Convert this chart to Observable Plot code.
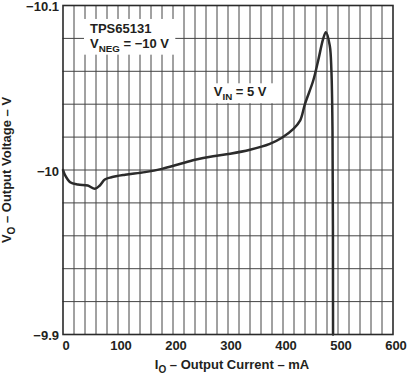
<!DOCTYPE html>
<html>
<head>
<meta charset="utf-8">
<script src="https://cdn.jsdelivr.net/npm/d3@7"></script>
<script src="https://cdn.jsdelivr.net/npm/@observablehq/plot@0.6"></script>
<style>
  html, body { margin: 0; padding: 0; background: white; }
</style>
</head>
<body>
<div id="chart"></div>
<script>
// Output current (mA) and output voltage (V)
const current = [0, 4, 13, 27, 45, 58, 67, 76, 88, 113, 149, 180, 209, 240, 273, 304, 340, 376, 398, 419, 431, 440, 455, 464, 473, 478, 485, 488, 490, 491];
const voltage = [-10.0, -9.9967, -9.9926, -9.9912, -9.9906, -9.9886, -9.9906, -9.9942, -9.9956, -9.9971, -9.9987, -10.0007, -10.0033, -10.0062, -10.0084, -10.0099, -10.0123, -10.0159, -10.0196, -10.025, -10.030, -10.0402, -10.0544, -10.0666, -10.0797, -10.0838, -10.0757, -10.0605, -10.024, -9.9];

const xTicks = [0, 100, 200, 300, 400, 500, 600];
const yTicks = [-10.1, -10.0, -9.9];
const yTickLabels = ["−10.1", "−10", "−9.9"];
const xGrid = [20, 40, 60, 80, 100, 120, 140, 160, 180, 200, 220, 240, 260, 280, 300, 320, 340, 360, 380, 400, 420, 440, 460, 480, 500, 520, 540, 560, 580];
const yGrid = [-10.08, -10.06, -10.04, -10.02, -10.0, -9.98, -9.96, -9.94, -9.92];

// annotation anchors (data coordinates)
const noteDevice = {x: 50, y: -10.083, text: "TPS65131"};
const noteVneg = {x: 50, y: -10.074, main: "V", sub: "NEG", rest: " = −10 V"};
const noteVin = {x: 275, y: -10.0445, main: "V", sub: "IN", rest: " = 5 V"};

const data = current.map((c, i) => ({current: c, voltage: voltage[i]}));

const chart = Plot.plot({
  width: 409,
  height: 376,
  marginLeft: 62.5,
  marginRight: 16.5,
  marginTop: 5,
  marginBottom: 42,
  style: "font-family: 'Liberation Sans', Arial, sans-serif; font-size: 13px; font-weight: bold; color: #231f20; background: white;",
  x: {domain: [0, 600], label: null},
  y: {domain: [-9.9, -10.1], label: null},
  marks: [
    Plot.gridX(xGrid, {stroke: "#444", strokeOpacity: 1, strokeWidth: 1}),
    Plot.gridY(yGrid, {stroke: "#444", strokeOpacity: 1, strokeWidth: 1}),
    Plot.frame({stroke: "#2a2a2a", strokeWidth: 1.6}),
    Plot.axisX(xTicks, {tickSize: 0, tickPadding: 6, dx: 3, label: null}),
    Plot.axisY(yTicks, {tickSize: 0, tickPadding: 4, dy: 1.5, label: null,
      tickFormat: d => yTickLabels[yTicks.findIndex(t => Math.abs(t - d) < 1e-9)]}),
    Plot.line(data, {x: "current", y: "voltage", stroke: "#2b2b2b", strokeWidth: 2.5, curve: "catmull-rom"})
  ]
});

document.getElementById("chart").appendChild(chart);

const svg = d3.select(chart);
const sx = chart.scale("x");
const sy = chart.scale("y");
const font = "'Liberation Sans', Arial, sans-serif";

function subText(g, x, y, main, sub, rest, size) {
  const t = g.append("text")
    .attr("x", x).attr("y", y)
    .attr("text-anchor", "start")
    .attr("font-family", font).attr("font-size", size).attr("font-weight", "bold")
    .attr("fill", "#231f20");
  t.append("tspan").text(main);
  t.append("tspan").attr("font-size", size * 0.75).attr("dy", size * 0.3).text(sub);
  t.append("tspan").attr("dy", -size * 0.3).text(rest);
  return t;
}

// Annotation block 1 (white box behind)
const g1 = svg.append("g");
const box1 = g1.append("rect").attr("fill", "white");
const t1 = g1.append("text")
  .attr("x", sx.apply(noteDevice.x)).attr("y", sy.apply(noteDevice.y))
  .attr("text-anchor", "start")
  .attr("font-family", font).attr("font-size", 13).attr("font-weight", "bold")
  .attr("fill", "#231f20").text(noteDevice.text);
const t2 = subText(g1, sx.apply(noteVneg.x), sy.apply(noteVneg.y), noteVneg.main, noteVneg.sub, noteVneg.rest, 13);
{
  const b1 = t1.node().getBBox(), b2 = t2.node().getBBox();
  const x0 = Math.min(b1.x, b2.x) - 6, x1 = Math.max(b1.x + b1.width, b2.x + b2.width) + 6;
  const y0 = b1.y - 2, y1 = b2.y + b2.height + 1;
  box1.attr("x", x0).attr("y", y0).attr("width", x1 - x0).attr("height", y1 - y0);
}

// Annotation V_IN
const g2 = svg.append("g");
const box2 = g2.append("rect").attr("fill", "white");
const t3 = subText(g2, sx.apply(noteVin.x), sy.apply(noteVin.y), noteVin.main, noteVin.sub, noteVin.rest, 13);
{
  const b = t3.node().getBBox();
  box2.attr("x", b.x - 3).attr("y", b.y - 1).attr("width", b.width + 12).attr("height", b.height + 2);
}

// Axis titles
const xt = svg.append("text")
  .attr("x", 232).attr("y", 369)
  .attr("text-anchor", "middle")
  .attr("font-family", font).attr("font-size", 13).attr("font-weight", "bold").attr("fill", "#231f20");
xt.append("tspan").text("I");
xt.append("tspan").attr("font-size", 10).attr("dy", 3.5).text("O");
xt.append("tspan").attr("dy", -3.5).text(" – Output Current – mA");

const yt = svg.append("text")
  .attr("transform", "translate(11,170) rotate(-90)")
  .attr("text-anchor", "middle")
  .attr("font-family", font).attr("font-size", 13).attr("font-weight", "bold").attr("fill", "#231f20");
yt.append("tspan").text("V");
yt.append("tspan").attr("font-size", 10).attr("dy", 3.5).text("O");
yt.append("tspan").attr("dy", -3.5).text(" – Output Voltage – V");
</script>
</body>
</html>
